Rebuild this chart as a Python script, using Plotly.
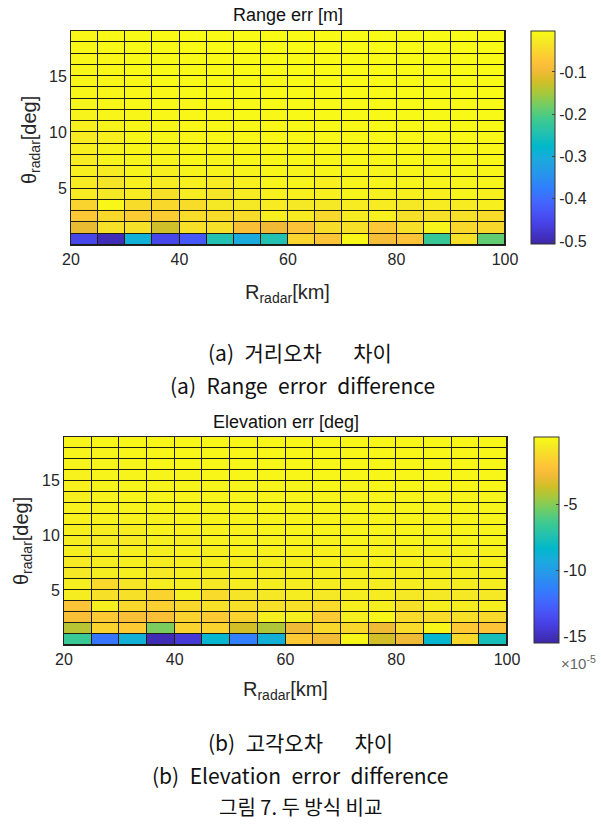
import plotly.graph_objects as go

# ---------------- data ----------------
RANGE_KM = [20, 25, 30, 35, 40, 45, 50, 55, 60, 65, 70, 75, 80, 85, 90, 95, 100]   # cell edges
THETA_DEG = [0, 1, 2, 3, 4, 5, 6, 7, 8, 9, 10, 11, 12, 13, 14, 15, 16, 17, 18, 19]  # cell edges

# Range error difference [m]; rows bottom (0-1 deg) to top (18-19 deg)
RANGE_ERR = [
    [-0.452, -0.497, -0.295, -0.452, -0.426, -0.245, -0.305, -0.245, -0.053, -0.074, -0.008, -0.089, -0.079, -0.220, -0.038, -0.190],
    [-0.104, -0.038, -0.038, -0.124, -0.038, -0.038, -0.084, -0.099, -0.079, -0.043, -0.038, -0.069, -0.038, -0.013, -0.048, -0.048],
    [-0.069, -0.048, -0.064, -0.064, -0.043, -0.043, -0.043, -0.018, -0.023, -0.048, -0.023, -0.018, -0.038, -0.038, -0.038, -0.043],
    [-0.053, -0.008, -0.043, -0.048, -0.043, -0.028, -0.028, -0.023, -0.028, -0.028, -0.023, -0.023, -0.028, -0.023, -0.023, -0.018],
    [-0.023, -0.028, -0.023, -0.038, -0.023, -0.033, -0.023, -0.018, -0.018, -0.018, -0.013, -0.018, -0.018, -0.018, -0.013, -0.018],
    [-0.023, -0.033, -0.018, -0.023, -0.018, -0.023, -0.018, -0.013, -0.013, -0.018, -0.013, -0.013, -0.013, -0.013, -0.013, -0.013],
    [-0.018, -0.023, -0.013, -0.018, -0.013, -0.013, -0.013, -0.010, -0.013, -0.010, -0.010, -0.013, -0.010, -0.010, -0.010, -0.010],
    [-0.023, -0.013, -0.013, -0.013, -0.010, -0.013, -0.010, -0.010, -0.010, -0.010, -0.008, -0.010, -0.008, -0.010, -0.008, -0.008],
    [-0.018, -0.013, -0.010, -0.013, -0.010, -0.010, -0.010, -0.008, -0.010, -0.008, -0.008, -0.008, -0.008, -0.008, -0.008, -0.008],
    [-0.023, -0.018, -0.010, -0.010, -0.010, -0.008, -0.008, -0.008, -0.008, -0.008, -0.008, -0.008, -0.008, -0.008, -0.008, -0.008],
    [-0.018, -0.013, -0.010, -0.010, -0.008, -0.008, -0.008, -0.008, -0.008, -0.006, -0.008, -0.006, -0.006, -0.006, -0.006, -0.006],
    [-0.013, -0.010, -0.010, -0.008, -0.008, -0.008, -0.006, -0.008, -0.006, -0.006, -0.006, -0.006, -0.006, -0.006, -0.006, -0.006],
    [-0.013, -0.010, -0.008, -0.008, -0.008, -0.006, -0.006, -0.006, -0.006, -0.006, -0.006, -0.006, -0.006, -0.006, -0.006, -0.006],
    [-0.010, -0.010, -0.008, -0.008, -0.006, -0.006, -0.006, -0.006, -0.006, -0.006, -0.005, -0.006, -0.005, -0.006, -0.005, -0.005],
    [-0.010, -0.008, -0.008, -0.006, -0.006, -0.006, -0.006, -0.006, -0.005, -0.005, -0.005, -0.005, -0.005, -0.005, -0.005, -0.005],
    [-0.010, -0.008, -0.006, -0.006, -0.006, -0.006, -0.005, -0.005, -0.005, -0.005, -0.005, -0.005, -0.005, -0.005, -0.005, -0.005],
    [-0.008, -0.008, -0.006, -0.006, -0.006, -0.005, -0.005, -0.005, -0.005, -0.005, -0.005, -0.004, -0.005, -0.004, -0.004, -0.004],
    [-0.008, -0.006, -0.006, -0.006, -0.005, -0.005, -0.005, -0.005, -0.004, -0.004, -0.004, -0.004, -0.004, -0.004, -0.004, -0.004],
    [-0.008, -0.006, -0.006, -0.005, -0.005, -0.005, -0.004, -0.004, -0.004, -0.004, -0.004, -0.004, -0.004, -0.004, -0.004, -0.004],
]

# Elevation error difference, in units of 1e-5 deg; rows bottom to top
ELEV_ERR_E5 = [
    [-6.6, -11.8, -8.9, -15.2, -14.4, -8.5, -11.4, -8.9, -1.9, -2.7, -0.1, -3.6, -2.9, -8.5, -1.3, -7.7],
    [-4.1, -1.5, -1.8, -5.2, -1.5, -1.5, -3.6, -4.3, -2.9, -1.3, -1.3, -2.9, -1.2, -0.1, -1.9, -2.1],
    [-2.4, -1.9, -2.4, -2.4, -1.5, -1.8, -1.5, -0.4, -0.4, -1.8, -0.4, -0.1, -1.2, -1.2, -1.0, -1.3],
    [-2.1, -0.4, -1.3, -1.6, -1.3, -1.0, -1.0, -1.0, -1.0, -1.2, -0.4, -0.4, -1.0, -0.4, -0.5, -0.4],
    [-0.5, -1.0, -1.0, -1.5, -0.4, -1.2, -0.8, -0.7, -0.5, -0.7, -0.5, -0.5, -0.7, -0.7, -0.7, -0.7],
    [-0.4, -1.3, -0.8, -0.5, -0.5, -0.7, -0.5, -0.5, -0.5, -0.5, -0.4, -0.5, -0.5, -0.5, -0.5, -0.5],
    [-0.7, -0.5, -0.4, -0.6, -0.4, -0.5, -0.4, -0.5, -0.4, -0.4, -0.4, -0.4, -0.4, -0.4, -0.4, -0.4],
    [-0.6, -0.5, -0.4, -0.5, -0.4, -0.4, -0.4, -0.4, -0.4, -0.3, -0.3, -0.3, -0.3, -0.3, -0.3, -0.3],
    [-0.4, -0.4, -0.4, -0.4, -0.3, -0.4, -0.3, -0.3, -0.3, -0.3, -0.3, -0.3, -0.3, -0.3, -0.3, -0.3],
    [-0.5, -0.6, -0.6, -0.4, -0.5, -0.3, -0.3, -0.3, -0.3, -0.3, -0.2, -0.3, -0.2, -0.2, -0.2, -0.2],
    [-0.4, -0.5, -0.5, -0.3, -0.3, -0.3, -0.3, -0.2, -0.2, -0.2, -0.2, -0.2, -0.2, -0.2, -0.2, -0.2],
    [-0.3, -0.3, -0.3, -0.3, -0.2, -0.2, -0.2, -0.2, -0.2, -0.2, -0.2, -0.2, -0.2, -0.2, -0.2, -0.2],
    [-0.3, -0.3, -0.3, -0.2, -0.2, -0.2, -0.2, -0.2, -0.2, -0.2, -0.2, -0.2, -0.2, -0.2, -0.2, -0.2],
    [-0.4, -0.3, -0.2, -0.2, -0.2, -0.2, -0.2, -0.2, -0.2, -0.2, -0.2, -0.2, -0.2, -0.2, -0.2, -0.2],
    [-0.3, -0.2, -0.2, -0.2, -0.2, -0.2, -0.2, -0.2, -0.2, -0.1, -0.2, -0.1, -0.1, -0.1, -0.1, -0.1],
    [-0.3, -0.2, -0.2, -0.2, -0.2, -0.1, -0.1, -0.1, -0.1, -0.1, -0.1, -0.1, -0.1, -0.1, -0.1, -0.1],
    [-0.2, -0.2, -0.2, -0.1, -0.1, -0.1, -0.1, -0.1, -0.1, -0.1, -0.1, -0.1, -0.1, -0.1, -0.1, -0.1],
    [-0.2, -0.2, -0.1, -0.1, -0.1, -0.1, -0.1, -0.1, -0.1, -0.1, -0.1, -0.1, -0.1, -0.1, -0.1, -0.1],
    [-0.2, -0.1, -0.1, -0.1, -0.1, -0.1, -0.1, -0.1, -0.1, -0.1, -0.1, -0.1, -0.1, -0.1, -0.1, -0.1],
]

X_TICKS = [20, 40, 60, 80, 100]
Y_TICKS = [5, 10, 15]
RANGE_CB_TICKS = [-0.5, -0.4, -0.3, -0.2, -0.1]
RANGE_CB_TEXT = ["-0.5", "-0.4", "-0.3", "-0.2", "-0.1"]
ELEV_CB_TICKS = [-15, -10, -5]
ELEV_CB_TEXT = ["-15", "-10", "-5"]

# ---------------- style ----------------
W, H = 601, 826
PARULA = [
    [0.000, "rgb(62,38,168)"], [0.095, "rgb(71,65,229)"], [0.143, "rgb(72,82,244)"],
    [0.206, "rgb(66,105,254)"], [0.254, "rgb(50,124,252)"], [0.333, "rgb(39,150,235)"],
    [0.397, "rgb(28,169,223)"], [0.460, "rgb(1,184,202)"], [0.524, "rgb(36,193,174)"],
    [0.587, "rgb(63,202,142)"], [0.651, "rgb(114,205,100)"], [0.714, "rgb(171,199,57)"],
    [0.762, "rgb(209,191,39)"], [0.810, "rgb(240,186,54)"], [0.857, "rgb(254,195,56)"],
    [0.905, "rgb(250,214,45)"], [0.952, "rgb(245,233,36)"], [1.000, "rgb(249,251,21)"],
]
FONT = "Liberation Sans, Arial, sans-serif"
KFONT = "Noto Sans CJK KR, sans-serif"
TXT = "#262626"
EN = "\u2002"   # en space
EM = "\u2003"   # em space


def px(v):
    return v / W


def py(v):
    return 1 - v / H


fig = go.Figure()

fig.add_trace(go.Heatmap(
    x=RANGE_KM, y=THETA_DEG, z=RANGE_ERR, xaxis="x", yaxis="y",
    zmin=-0.507, zmax=-0.003, colorscale=PARULA, xgap=1, ygap=1,
    colorbar=dict(
        x=px(531), xanchor="left", y=py(31), yanchor="top",
        len=(244 - 31) / H, lenmode="fraction", thickness=24, thicknessmode="pixels",
        xpad=0, ypad=0, outlinecolor="#333", outlinewidth=1,
        tickvals=RANGE_CB_TICKS, ticktext=RANGE_CB_TEXT, ticks="inside",
        ticklen=3, tickcolor="#444", tickfont=dict(family=FONT, size=16, color=TXT),
    ),
))

fig.add_trace(go.Heatmap(
    x=RANGE_KM, y=THETA_DEG, z=ELEV_ERR_E5, xaxis="x2", yaxis="y2",
    zmin=-15.5, zmax=0.1, colorscale=PARULA, xgap=1, ygap=1,
    colorbar=dict(
        x=px(534), xanchor="left", y=py(437), yanchor="top",
        len=(643 - 437) / H, lenmode="fraction", thickness=25, thicknessmode="pixels",
        xpad=0, ypad=0, outlinecolor="#333", outlinewidth=1,
        tickvals=ELEV_CB_TICKS, ticktext=ELEV_CB_TEXT, ticks="inside",
        ticklen=3, tickcolor="#444", tickfont=dict(family=FONT, size=16, color=TXT),
    ),
))

axis_common = dict(showline=True, mirror=True, linecolor="#222", linewidth=1,
                   ticks="", showgrid=False, zeroline=False, automargin=False,
                   tickfont=dict(family=FONT, size=16, color=TXT))

fig.update_layout(
    width=W, height=H, margin=dict(l=0, r=0, t=0, b=0, autoexpand=False),
    paper_bgcolor="white", plot_bgcolor="#1c1c10",
    xaxis=dict(domain=[px(71), px(505)], range=[20, 100], tickvals=X_TICKS,
               anchor="y", **axis_common),
    yaxis=dict(domain=[py(245), py(31)], range=[0, 19], tickvals=Y_TICKS,
               anchor="x", **axis_common),
    xaxis2=dict(domain=[px(64), px(507)], range=[20, 100], tickvals=X_TICKS,
                anchor="y2", **axis_common),
    yaxis2=dict(domain=[py(645), py(437)], range=[0, 19], tickvals=Y_TICKS,
                anchor="x2", **axis_common),
)

ann = [
    dict(text="Range err [m]", x=px(288), y=py(15), size=18, family=FONT, color="#111"),
    dict(text="R<sub>radar</sub>[km]", x=px(287), y=py(293), size=20, family=FONT, color=TXT),
    dict(text="Elevation err [deg]", x=px(286), y=py(422), size=18, family=FONT, color="#111"),
    dict(text="R<sub>radar</sub>[km]", x=px(285), y=py(690), size=20, family=FONT, color=TXT),
    dict(text="×10<sup>-5</sup>", x=px(578), y=py(662), size=15, family=FONT, color="#666"),
    dict(text="(a)" + EN + "거리오차" + EM + EN + "차이", x=px(300), y=py(352), size=21, family=KFONT, color="#111"),
    dict(text="(a)" + EN + "Range" + EN + "error" + EN + "difference", x=px(302), y=py(385), size=21, family=KFONT, color="#111"),
    dict(text="(b)" + EN + "고각오차" + EM + EN + "차이", x=px(300), y=py(742), size=21, family=KFONT, color="#111"),
    dict(text="(b)" + EN + "Elevation" + EN + "error" + EN + "difference", x=px(300), y=py(775), size=21, family=KFONT, color="#111"),
    dict(text="그림 7. 두 방식 비교", x=px(300), y=py(806), size=20, family=KFONT, color="#111"),
]
annotations = []
for a in ann:
    annotations.append(dict(text=a["text"], x=a["x"], y=a["y"], xref="paper", yref="paper",
                            showarrow=False, xanchor="center", yanchor="middle",
                            font=dict(family=a["family"], size=a["size"], color=a["color"])))
annotations.append(dict(text="θ<sub>radar</sub>[deg]", x=px(30), y=py(140), xref="paper", yref="paper",
                        showarrow=False, textangle=-90, xanchor="center", yanchor="middle",
                        font=dict(family=FONT, size=20, color=TXT)))
annotations.append(dict(text="θ<sub>radar</sub>[deg]", x=px(22), y=py(541), xref="paper", yref="paper",
                        showarrow=False, textangle=-90, xanchor="center", yanchor="middle",
                        font=dict(family=FONT, size=20, color=TXT)))
fig.update_layout(annotations=annotations)

fig.write_html("out.html", config={"displayModeBar": False},
               post_script="document.body.style.margin='0';")
